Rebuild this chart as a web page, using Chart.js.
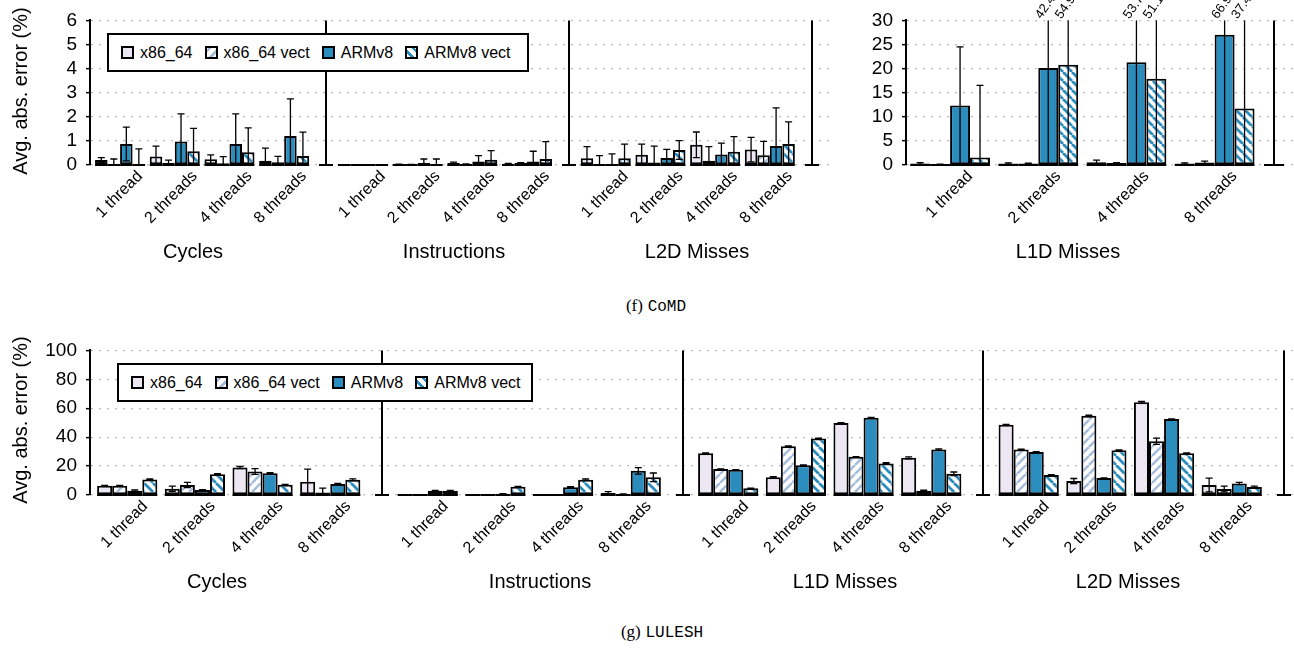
<!DOCTYPE html>
<html>
<head>
<meta charset="utf-8">
<script src="https://cdn.jsdelivr.net/npm/chart.js@4.4.1/dist/chart.umd.min.js"></script>
<style>
  body { margin: 0; width: 1294px; height: 650px; background: #fff; position: relative; overflow: hidden;
         font-family: "Liberation Sans", Arial, Helvetica, sans-serif; color: #000; }
  canvas { position: absolute; }
  .ylab { position: absolute; font-size: 20px; white-space: nowrap; transform: translate(-50%, -50%) rotate(-90deg); }
  .ptitle { position: absolute; font-size: 20px; white-space: nowrap; transform: translate(-50%, -50%); }
  .caption { position: absolute; font-size: 17px; white-space: nowrap; transform: translate(-50%, -50%); }
  .caption .tag { font-family: "Liberation Serif", "Times New Roman", serif; }
  .caption .tt { font-family: "Liberation Mono", "Courier New", monospace; font-size: 16px; }
  .legend { position: absolute; box-sizing: border-box; border: 2px solid #000; background: #fff;
            display: flex; align-items: center; padding-left: 12px; font-size: 16px; }
  .legend .item { display: flex; align-items: center; margin-right: 12px; white-space: nowrap; }
  .legend .sw { width: 9px; height: 9px; border: 2px solid #000; margin-right: 6px; }
  .sw0 { background: #ece7f2; }
  .sw1 { background: repeating-linear-gradient(-45deg, #fff 0 2.5px, #a6bddb 2.5px 5px, #fff 5px 7px); }
  .sw2 { background: #2b8cbe; }
  .sw3 { background: repeating-linear-gradient(45deg, #fff 0 2.5px, #2b8cbe 2.5px 5px, #fff 5px 7px); }
</style>
</head>
<body>
<canvas id="comdLeft" width="830" height="240" style="left:0;top:0"></canvas>
<canvas id="comdL1d" width="474" height="240" style="left:820px;top:0"></canvas>
<canvas id="lulesh" width="1294" height="240" style="left:0;top:330px"></canvas>

<div class="ylab" style="left:20px;top:91px">Avg. abs. error (%)</div>
<div class="ylab" style="left:20px;top:420px">Avg. abs. error (%)</div>

<div class="ptitle" style="left:193px;top:251px">Cycles</div>
<div class="ptitle" style="left:454px;top:251px">Instructions</div>
<div class="ptitle" style="left:697px;top:251px">L2D Misses</div>
<div class="ptitle" style="left:1068px;top:251px">L1D Misses</div>

<div class="ptitle" style="left:217px;top:581px">Cycles</div>
<div class="ptitle" style="left:540px;top:581px">Instructions</div>
<div class="ptitle" style="left:845px;top:581px">L1D Misses</div>
<div class="ptitle" style="left:1128px;top:581px">L2D Misses</div>

<div class="caption" style="left:656px;top:306px"><span class="tag">(f)</span> <span class="tt">CoMD</span></div>
<div class="caption" style="left:662px;top:632px"><span class="tag">(g)</span> <span class="tt">LULESH</span></div>

<div id="legendTop" class="legend" style="left:107px;top:33px;width:422px;height:39px"></div>
<div id="legendBottom" class="legend" style="left:117px;top:363px;width:416px;height:39px"></div>

<script>
const threadLabels = ["1 thread", "2 threads", "4 threads", "8 threads"];
const seriesNames = ["x86_64", "x86_64 vect", "ARMv8", "ARMv8 vect"];

// rows: x86_64, x86_64 vect, ARMv8, ARMv8 vect -- cols: 1, 2, 4, 8 threads
// CoMD
const comdCycles = [[0.21, 0.35, 0.24, 0.18], [0.03, 0.08, 0.07, 0.11], [0.87, 0.98, 0.87, 1.20], [0.03, 0.57, 0.53, 0.37]];
const comdCyclesErr = [[0.10, 0.43, 0.18, 0.52], [0.22, 0.12, 0.28, 0.25], [0.70, 1.14, 1.25, 1.54], [0.64, 0.95, 1.01, 0.99]];
const comdInstr = [[0.00, 0.02, 0.08, 0.05], [0.00, 0.01, 0.03, 0.08], [0.01, 0.08, 0.15, 0.15], [0.01, 0.04, 0.22, 0.25]];
const comdInstrErr = [[0, 0.02, 0.04, 0.02], [0, 0.01, 0.02, 0.02], [0, 0.17, 0.24, 0.42], [0, 0.21, 0.38, 0.72]];
const comdL2d = [[0.28, 0.43, 0.84, 0.64], [0.02, 0.10, 0.18, 0.40], [0.01, 0.29, 0.44, 0.79], [0.28, 0.62, 0.55, 0.87]];
const comdL2dErr = [[0.48, 0.44, 0.53, 0.51], [0.37, 0.68, 0.58, 0.58], [0.45, 0.36, 0.47, 1.58], [0.59, 0.39, 0.63, 0.92]];
const comdL1d = [[0.3, 0.3, 0.55, 0.3], [0.1, 0.3, 0.4, 0.5], [12.35, 20.1, 21.3, 27.0], [1.58, 20.8, 17.9, 11.7]];
const comdL1dErr = [[0.2, 0.15, 0.45, 0.15], [0.1, 0.1, 0.1, 0.3], [12.15, 22.3, 32.4, 39.9], [14.92, 34.1, 33.2, 25.7]];

// LULESH
const luleshCycles = [[6.4, 4.4, 19.0, 9.2], [6.4, 6.9, 16.3, 1.8], [3.0, 3.4, 15.1, 7.6], [10.8, 14.4, 7.1, 10.6]];
const luleshCyclesErr = [[0.3, 1.8, 0.7, 8.7], [0.2, 1.8, 2.0, 3.0], [0.5, 0.3, 0.3, 0.5], [0.3, 0.3, 0.3, 0.6]];
const luleshInstr = [[0.2, 0.3, 0.3, 1.4], [0.2, 0.5, 0.3, 0.5], [3.0, 0.8, 5.3, 16.7], [3.0, 5.7, 10.6, 12.2]];
const luleshInstrErr = [[0, 0, 0, 1.0], [0, 0, 0, 0.2], [0.2, 0.1, 0.4, 2.3], [0.2, 0.3, 0.5, 3.0]];
const luleshL1d = [[28.9, 12.2, 49.8, 25.7], [17.9, 33.7, 26.4, 3.0], [17.4, 20.6, 53.4, 31.4], [4.6, 39.0, 21.8, 14.7]];
const luleshL1dErr = [[0.3, 0.5, 0.3, 0.7], [0.2, 0.3, 0.2, 0.4], [0.2, 0.2, 0.2, 0.5], [0.2, 0.3, 0.5, 1.2]];
const luleshL2d = [[48.6, 9.6, 64.2, 6.9], [31.4, 54.8, 37.2, 4.1], [29.8, 11.7, 52.5, 8.0], [13.8, 31.0, 28.9, 5.5]];
const luleshL2dErr = [[0.3, 1.8, 0.6, 4.8], [0.3, 0.5, 2.2, 2.0], [0.2, 0.2, 0.2, 0.8], [0.2, 0.2, 0.2, 0.6]];

// layout of the panels along one x axis (in group units)
const PANEL_STEP = 4.44;
const SEP_OFFSET = 3.77;
const FONT = "'Liberation Sans', Arial, Helvetica, sans-serif";

function hatch(color, dir, size, lw) {
  const c = document.createElement("canvas");
  c.width = c.height = size;
  const g = c.getContext("2d");
  g.fillStyle = "#fff";
  g.fillRect(0, 0, size, size);
  g.strokeStyle = color;
  g.lineWidth = lw;
  g.beginPath();
  for (let k = -1; k <= 1; k++) {
    if (dir === "/") {
      g.moveTo(k * size, size);
      g.lineTo(k * size + size, 0);
    } else {
      g.moveTo(k * size, 0);
      g.lineTo(k * size + size, size);
    }
  }
  g.stroke();
  return g.createPattern(c, "repeat");
}

const fills = [
  "#ece7f2",
  hatch("#a6bddb", "/", 9, 2.6),
  "#2b8cbe",
  hatch("#2b8cbe", "\\", 9, 2.8),
];

// separators, error bars, zero outlines, clipped-error labels
const decor = {
  id: "decor",
  afterDatasetsDraw(chart, args, opts) {
    const { ctx, chartArea: area } = chart;
    const x = chart.scales.x;
    const y = chart.scales.y;
    const y0 = y.getPixelForValue(0);
    ctx.save();
    ctx.strokeStyle = "#000";
    ctx.fillStyle = "#000";
    ctx.lineWidth = 2;
    (opts.separators || []).forEach((v) => {
      const px = Math.round(x.getPixelForValue(v));
      ctx.beginPath();
      ctx.moveTo(px, area.top);
      ctx.lineTo(px, y0);
      ctx.moveTo(px - opts.stub, y0);
      ctx.lineTo(px + opts.stub, y0);
      ctx.stroke();
    });
    chart.data.datasets.forEach((ds, i) => {
      chart.getDatasetMeta(i).data.forEach((bar, j) => {
        const half = bar.width / 2;
        ctx.lineWidth = 2;
        ctx.beginPath();
        ctx.moveTo(bar.x - half, y0);
        ctx.lineTo(bar.x + half, y0);
        ctx.stroke();
        const v = ds.data[j].y;
        const e = ds.errs[j];
        if (!e) return;
        const hi = v + e;
        const lo = Math.max(v - e, 0);
        const clipped = hi > y.max;
        const pHi = y.getPixelForValue(Math.min(hi, y.max));
        const pLo = y.getPixelForValue(lo);
        ctx.lineWidth = 1.3;
        ctx.beginPath();
        ctx.moveTo(bar.x, pLo);
        ctx.lineTo(bar.x, pHi);
        if (!clipped) {
          ctx.moveTo(bar.x - 3.5, pHi);
          ctx.lineTo(bar.x + 3.5, pHi);
        }
        if (lo > 0) {
          ctx.moveTo(bar.x - 3.5, pLo);
          ctx.lineTo(bar.x + 3.5, pLo);
        }
        ctx.stroke();
        if (clipped) {
          ctx.save();
          ctx.translate(bar.x - 10, area.top - 3);
          ctx.rotate(-55 * Math.PI / 180);
          ctx.font = "13px " + FONT;
          ctx.textAlign = "left";
          ctx.textBaseline = "middle";
          ctx.fillText(hi.toFixed(1), 0, 0);
          ctx.restore();
        }
      });
    });
    ctx.restore();
  },
};

function buildChart(canvasId, panels, cfg) {
  const centers = [];
  panels.forEach((_, p) => threadLabels.forEach((_, g) => centers.push(p * PANEL_STEP + g)));
  const datasets = seriesNames.map((name, s) => ({
    label: name,
    data: panels.flatMap((panel, p) => panel.vals[s].map((v, g) => ({ x: p * PANEL_STEP + g, y: v }))),
    errs: panels.flatMap((panel) => panel.errs[s]),
    backgroundColor: fills[s],
    borderColor: "#000",
    borderWidth: 2,
    borderSkipped: false,
    categoryPercentage: cfg.catPct,
    barPercentage: 1,
  }));

  return new Chart(document.getElementById(canvasId), {
    type: "bar",
    data: { datasets },
    plugins: [decor],
    options: {
      responsive: false,
      animation: false,
      layout: { padding: { top: cfg.padTop, right: 0, bottom: 0, left: 0 } },
      plugins: {
        legend: { display: false },
        tooltip: { enabled: false },
        decor: { separators: cfg.separators, stub: cfg.stub },
      },
      scales: {
        x: {
          type: "linear",
          offset: false,
          min: cfg.xMin,
          max: cfg.xMax,
          grid: { display: false },
          border: { display: false },
          afterBuildTicks: (scale) => {
            scale.ticks = centers.map((v) => ({ value: v }));
          },
          afterFit: (scale) => {
            scale.height = 75;
          },
          ticks: {
            autoSkip: false,
            minRotation: 45,
            maxRotation: 45,
            padding: -6,
            labelOffset: cfg.labelOffset,
            color: "#000",
            font: { family: FONT, size: 16 },
            callback: (value, index) => threadLabels[index % threadLabels.length],
          },
        },
        y: {
          min: 0,
          max: cfg.yMax,
          afterFit: (scale) => {
            scale.width = cfg.yWidth;
          },
          grid: {
            color: "#bdbdbd",
            lineWidth: 1.3,
            drawTicks: true,
            tickLength: 4,
            tickColor: "#000",
            tickWidth: 1.5,
          },
          border: { display: true, color: "#000", width: 2, dash: [2, 6] },
          ticks: {
            autoSkip: false,
            stepSize: cfg.yStep,
            padding: 9,
            color: "#000",
            font: { family: FONT, size: 19 },
          },
        },
      },
    },
  });
}

buildChart("comdLeft", [
  { vals: comdCycles, errs: comdCyclesErr },
  { vals: comdInstr, errs: comdInstrErr },
  { vals: comdL2d, errs: comdL2dErr },
], {
  catPct: 0.915, padTop: 20, xMin: -0.55, xMax: 12.98, yMax: 6, yStep: 1, yWidth: 90,
  labelOffset: 20, stub: 7,
  separators: [0, 1, 2].map((p) => p * PANEL_STEP + SEP_OFFSET),
});

buildChart("comdL1d", [
  { vals: comdL1d, errs: comdL1dErr },
], {
  catPct: 0.905, padTop: 20, xMin: -0.5, xMax: 3.9, yMax: 30, yStep: 5, yWidth: 86,
  labelOffset: 20, stub: 10,
  separators: [3.67],
});

buildChart("lulesh", [
  { vals: luleshCycles, errs: luleshCyclesErr },
  { vals: luleshInstr, errs: luleshInstrErr },
  { vals: luleshL1d, errs: luleshL1dErr },
  { vals: luleshL2d, errs: luleshL2dErr },
], {
  catPct: 0.89, padTop: 19, xMin: -0.55, xMax: 17.24, yMax: 100, yStep: 20, yWidth: 90,
  labelOffset: 18, stub: 7,
  separators: [0, 1, 2, 3].map((p) => p * PANEL_STEP + SEP_OFFSET),
});

// legends
["legendTop", "legendBottom"].forEach((id) => {
  const box = document.getElementById(id);
  seriesNames.forEach((name, s) => {
    const item = document.createElement("span");
    item.className = "item";
    const sw = document.createElement("span");
    sw.className = "sw sw" + s;
    item.appendChild(sw);
    item.appendChild(document.createTextNode(name));
    box.appendChild(item);
  });
});
</script>
</body>
</html>
